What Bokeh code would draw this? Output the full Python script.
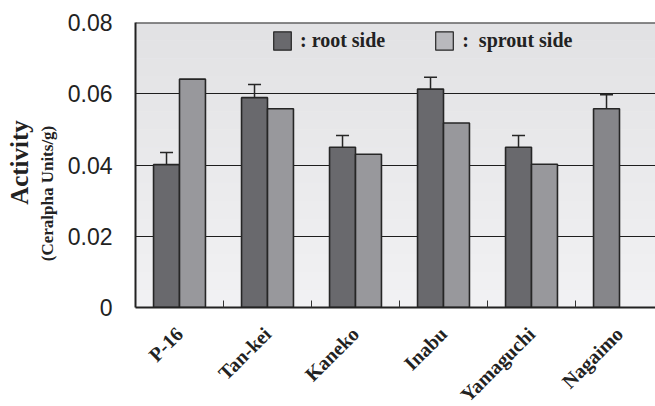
import math
from bokeh.plotting import figure
from bokeh.layouts import row
from bokeh.models import (ColumnDataSource, Range1d, FixedTicker, CustomJSTickFormatter,
                          Whisker, TeeHead, Legend, LegendItem, BoxAnnotation, Span)
from bokeh.core.properties import value
from bokeh.embed import file_html
from bokeh.resources import INLINE

# ---- data ----
cultivars = ["P-16", "Tan-kei", "Kaneko", "Inabu", "Yamaguchi", "Nagaimo"]
root = [0.0401, 0.0589, 0.0450, 0.0613, 0.0450, 0.0558]
root_err = [0.0034, 0.0037, 0.0033, 0.0033, 0.0033, 0.0039]
sprout = [0.0641, 0.0558, 0.0430, 0.0518, 0.0402]
y_ticks = [0, 0.02, 0.04, 0.06, 0.08]
y_title = "Activity"
y_unit = "(Ceralpha Units/g)"

ROOT_C = "#69696d"
SPROUT_C = "#98989c"
NAGA_C = "#86868a"
EDGE = "#262626"
TXT = "#222222"
BW = 0.295

TITLE_W = 62
FULL_H = 406
TOP, FRAME_H = 22, 285
BOTTOM = FULL_H - TOP - FRAME_H

centers = [i + 0.5 for i in range(len(cultivars))]
root_x = [c - BW / 2 for c in centers]
sprout_x = [c + BW / 2 for c in centers[:len(sprout)]]
root_colors = [ROOT_C] * 5 + [NAGA_C]

# ---- narrow figure holding the two-size y title (same vertical frame as the chart) ----
t = figure(title=None, frame_width=TITLE_W, frame_height=FRAME_H, output_backend="svg",
           toolbar_location=None, x_axis_type=None, y_axis_type=None,
           x_range=Range1d(0, TITLE_W), y_range=Range1d(0, 0.08),
           min_border_left=0, min_border_right=0,
           min_border_top=TOP, min_border_bottom=BOTTOM)
t.grid.visible = False
t.outline_line_color = None
t.background_fill_color = "white"
t.border_fill_color = "white"
t.text(x=[18.5], y=[0.0407], text=[y_title], angle=math.pi / 2,
       text_align="center", text_baseline="middle", text_font=value("Liberation Serif"),
       text_font_style="bold", text_font_size="25px", text_color=TXT)
t.text(x=[46.5], y=[0.0320], text=[y_unit], angle=math.pi / 2,
       text_align="center", text_baseline="middle", text_font=value("Liberation Serif"),
       text_font_style="bold", text_font_size="17px", text_color=TXT)

# ---- main chart ----
p = figure(title=None, frame_width=520, frame_height=FRAME_H,
           output_backend="svg", toolbar_location=None,
           x_range=Range1d(0, 520 / 88), y_range=Range1d(0, 0.08),
           min_border_left=135 - TITLE_W, min_border_right=0, min_border_top=TOP,
           min_border_bottom=BOTTOM)
p.outline_line_color = None
p.background_fill_color = "#ececed"
p.border_fill_color = "white"

# background gradient bands (darker at top)
n = 16
for i in range(n):
    f = i / (n - 1)
    g = int(round(0xf1 - f * (0xf1 - 0xe2)))
    p.add_layout(BoxAnnotation(bottom=0.08 * i / n, top=0.08 * (i + 1) / n,
                               fill_color=f"#{g:02x}{g:02x}{min(g + 2, 255):02x}", fill_alpha=1,
                               line_color=None, level="image"))

src_r = ColumnDataSource(dict(x=root_x, top=root, color=root_colors,
                              lo=root, hi=[v + e for v, e in zip(root, root_err)]))
src_s = ColumnDataSource(dict(x=sprout_x, top=sprout))

p.vbar(x="x", top="top", width=BW, bottom=0, source=src_r, fill_color="color",
       line_color=EDGE, line_width=1.6)
p.vbar(x="x", top="top", width=BW, bottom=0, source=src_s, fill_color=SPROUT_C,
       line_color=EDGE, line_width=1.6)

w = Whisker(base="x", lower="lo", upper="hi", source=src_r, line_color=EDGE, line_width=1.5,
            lower_head=None, upper_head=TeeHead(size=13, line_color=EDGE, line_width=1.5),
            level="glyph")
p.add_layout(w)

# legend swatches (dummy renderers with no visible point)
nan = float("nan")
d1 = p.rect(x=[nan], y=[nan], width=1, height=1, fill_color=ROOT_C, line_color=EDGE, line_width=1.2)
d2 = p.rect(x=[nan], y=[nan], width=1, height=1, fill_color="#b9b9bd", line_color=EDGE, line_width=1.2)
leg = Legend(items=[LegendItem(label=": root side", renderers=[d1]),
                    LegendItem(label=":  sprout side", renderers=[d2])],
             orientation="horizontal", location=(136, 255),
             glyph_width=22, glyph_height=23, label_standoff=7, spacing=48,
             padding=0, margin=0, border_line_color=None, background_fill_alpha=0,
             label_text_font="Liberation Serif", label_text_font_style="bold",
             label_text_font_size="20px", label_text_color=TXT)
p.add_layout(leg, "center")

# axes
p.xaxis.ticker = FixedTicker(ticks=centers, minor_ticks=[1, 2, 3, 4, 5])
p.xaxis.major_label_overrides = {c: name for c, name in zip(centers, cultivars)}
p.xaxis.major_label_orientation = math.pi / 4
p.xaxis.major_label_text_font = "Liberation Serif"
p.xaxis.major_label_text_font_style = "bold"
p.xaxis.major_label_text_font_size = "20px"
p.xaxis.major_label_text_color = TXT
p.xaxis.major_label_standoff = 17
p.xaxis.major_tick_line_color = None
p.xaxis.minor_tick_in = 7
p.xaxis.minor_tick_out = 0
p.xaxis.minor_tick_line_color = "#333333"
p.xaxis.axis_line_width = 2
p.xaxis.axis_line_color = TXT

p.yaxis.ticker = FixedTicker(ticks=y_ticks)
p.yaxis.formatter = CustomJSTickFormatter(code="return tick == 0 ? '0' : tick.toFixed(2);")
p.yaxis.major_label_text_font = "Liberation Sans"
p.yaxis.major_label_text_font_size = "23px"
p.yaxis.major_label_text_color = TXT
p.yaxis.major_label_standoff = 17
p.yaxis.major_tick_line_color = None
p.yaxis.minor_tick_line_color = None
p.yaxis.axis_line_width = 2
p.yaxis.axis_line_color = TXT

p.xgrid.grid_line_color = None
p.ygrid.ticker = FixedTicker(ticks=[0.02, 0.04, 0.06])
p.ygrid.grid_line_color = "#1e1e1e"
p.ygrid.grid_line_width = 1.1

p.add_layout(Span(location=0.08, dimension="width", line_color=TXT, line_width=2))

layout = row(t, p, spacing=0)
open("out.html", "w").write(file_html(layout, INLINE))
